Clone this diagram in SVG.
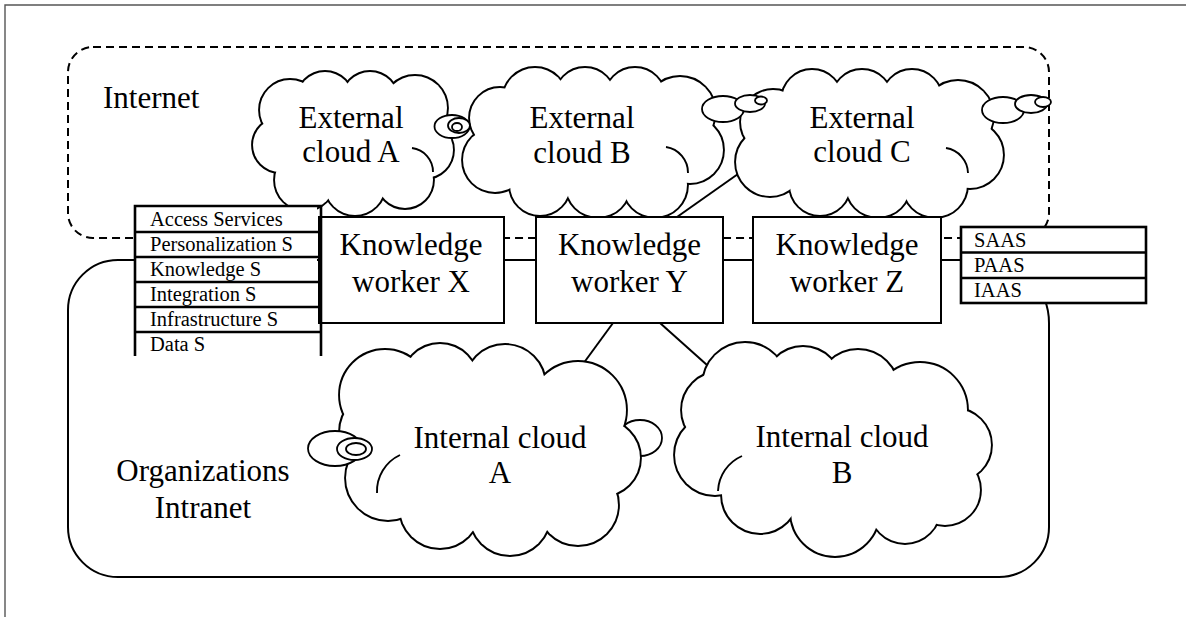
<svg xmlns="http://www.w3.org/2000/svg" width="1186" height="617" viewBox="0 0 1186 617">
<style>
.t{font-family:"Liberation Serif","Times New Roman",serif;fill:#000}
.L{font-size:31px}
.S{font-size:20.5px}
.mid{text-anchor:middle}
.frame{stroke:#555;stroke-width:1.4;fill:none}
.dash{fill:none;stroke:#000;stroke-width:2;stroke-dasharray:8 5}
.solid{fill:none;stroke:#000;stroke-width:2}
.box{fill:#fff;stroke:#000;stroke-width:2}
.tl{stroke:#000;stroke-width:2.6;fill:none}
.co{fill:#fff;stroke:#000;stroke-width:3.8}
.cf{fill:#fff;stroke:none}
.bub{fill:#fff;stroke:#000;stroke-width:1.8}
.cr{fill:none;stroke:#000;stroke-width:1.9}
.ln{stroke:#000;stroke-width:2;fill:none}
</style>
<defs>
<g id="sEA">
<ellipse cx="353" cy="143" rx="70" ry="40"/>
<circle cx="290" cy="110" r="30"/><circle cx="325" cy="100" r="28"/><circle cx="370" cy="100" r="28"/>
<circle cx="415" cy="108" r="32"/><circle cx="425" cy="150" r="28"/><circle cx="405" cy="180" r="28"/>
<circle cx="355" cy="185" r="30"/><circle cx="305" cy="180" r="30"/><circle cx="280" cy="145" r="27"/>
</g>
<g id="sEB">
<ellipse cx="593" cy="142" rx="95" ry="45"/>
<circle cx="500" cy="118" r="30"/><circle cx="535" cy="100" r="32"/><circle cx="585" cy="98" r="30"/>
<circle cx="635" cy="98" r="30"/><circle cx="680" cy="112" r="35"/><circle cx="690" cy="150" r="33"/>
<circle cx="655" cy="185" r="32"/><circle cx="598" cy="185" r="32"/><circle cx="540" cy="185" r="30"/>
<circle cx="495" cy="160" r="32"/>
</g>
<g id="sEC">
<ellipse cx="870" cy="143" rx="95" ry="45"/>
<circle cx="773" cy="122" r="32"/><circle cx="812" cy="100" r="30"/><circle cx="862" cy="100" r="30"/>
<circle cx="912" cy="100" r="30"/><circle cx="958" cy="116" r="35"/><circle cx="970" cy="155" r="33"/>
<circle cx="935" cy="185" r="32"/><circle cx="878" cy="185" r="32"/><circle cx="820" cy="185" r="30"/>
<circle cx="770" cy="162" r="34"/>
</g>
<g id="sIA">
<ellipse cx="489" cy="449" rx="100" ry="60"/>
<circle cx="385" cy="395" r="45"/><circle cx="440" cy="382" r="38"/><circle cx="505" cy="385" r="40"/>
<circle cx="578" cy="410" r="48"/><circle cx="602" cy="458" r="38"/><circle cx="578" cy="505" r="40"/>
<circle cx="510" cy="515" r="40"/><circle cx="440" cy="508" r="40"/><circle cx="388" cy="478" r="42"/>
<circle cx="380" cy="432" r="40"/>
</g>
<g id="sIB">
<ellipse cx="834" cy="450" rx="105" ry="55"/>
<circle cx="745" cy="385" r="42"/><circle cx="803" cy="385" r="38"/><circle cx="858" cy="390" r="40"/>
<circle cx="920" cy="410" r="47"/><circle cx="955" cy="445" r="36"/><circle cx="945" cy="490" r="35"/>
<circle cx="905" cy="508" r="35"/><circle cx="835" cy="512" r="44"/><circle cx="760" cy="495" r="38"/>
<circle cx="715" cy="455" r="40"/><circle cx="720" cy="410" r="38"/>
</g>
</defs>
<rect width="1186" height="617" fill="#fff"/>
<path class="frame" d="M5 617 V5 H1186"/>

<g id="internet">
<rect class="dash" x="68" y="47" width="981" height="191" rx="25" ry="25"/>
<text class="t L" x="103" y="108">Internet</text>
</g>
<g id="intranet">
<path class="solid" d="M118 260 H986 A63 63 0 0 1 1049 323 V527 A50 50 0 0 1 999 577 H118 A50 50 0 0 1 68 527 V310 A50 50 0 0 1 118 260 Z"/>
<text class="t L mid" x="203" y="481">Organizations</text>
<text class="t L mid" x="203" y="518">Intranet</text>
</g>

<g id="connectors">
<line class="ln" x1="677" y1="217" x2="738" y2="174"/>
<line class="ln" x1="613" y1="323" x2="583" y2="364"/>
<line class="ln" x1="660" y1="323" x2="707" y2="365"/>
</g>

<g id="external-cloud-a">
<use href="#sEA" class="co"/><use href="#sEA" class="cf"/>
<path class="cr" d="M412 148 A24 24 0 0 1 433 172"/>
<text class="t L mid" x="351" y="128">External</text>
<text class="t L mid" x="351" y="162">cloud A</text>
</g>
<g id="external-cloud-b">
<use href="#sEB" class="co"/><use href="#sEB" class="cf"/>
<path class="cr" d="M666 147 A26 26 0 0 1 688 173"/>
<text class="t L mid" x="582" y="128">External</text>
<text class="t L mid" x="582" y="163">cloud B</text>
</g>
<g id="external-cloud-c">
<use href="#sEC" class="co"/><use href="#sEC" class="cf"/>
<path class="cr" d="M946 148 A26 26 0 0 1 968 173"/>
<text class="t L mid" x="862" y="128">External</text>
<text class="t L mid" x="862" y="162">cloud C</text>
</g>
<g id="bubbles-b">
<ellipse class="bub" cx="723" cy="109" rx="21" ry="13"/>
<ellipse class="bub" cx="750" cy="103.5" rx="15" ry="8.5"/>
<ellipse class="bub" cx="761" cy="100.5" rx="6" ry="4"/>
</g>
<g id="bubbles-c">
<ellipse class="bub" cx="1003" cy="110" rx="21" ry="13"/>
<ellipse class="bub" cx="1031" cy="104" rx="16" ry="9"/>
<ellipse class="bub" cx="1043" cy="102" rx="8" ry="5"/>
</g>
<g id="eye-ab">
<ellipse class="bub" cx="452" cy="126.5" rx="17.5" ry="11.5"/>
<ellipse class="bub" cx="459" cy="125.5" rx="11" ry="7.5"/>
<ellipse class="bub" cx="457" cy="127" rx="5" ry="4"/>
</g>

<g id="internal-cloud-a">
<ellipse class="bub" cx="640" cy="438" rx="22" ry="18"/>
<use href="#sIA" class="co"/><use href="#sIA" class="cf"/>
<path class="cr" d="M400 455 A40 40 0 0 0 377 493"/>
<ellipse class="bub" cx="335" cy="448.5" rx="27" ry="17.5"/>
<ellipse class="bub" cx="354.5" cy="449" rx="17.5" ry="11"/>
<ellipse class="bub" cx="356" cy="449" rx="10" ry="6"/>
<text class="t L mid" x="500" y="448">Internal cloud</text>
<text class="t L mid" x="500" y="483">A</text>
</g>
<g id="internal-cloud-b">
<use href="#sIB" class="co"/><use href="#sIB" class="cf"/>
<path class="cr" d="M742 456 A40 40 0 0 0 718 491"/>
<text class="t L mid" x="842" y="447">Internal cloud</text>
<text class="t L mid" x="842" y="483">B</text>
</g>

<g id="worker-x">
<rect class="box" x="319" y="217" width="185" height="106"/>
<text class="t L mid" x="411" y="255">Knowledge</text>
<text class="t L mid" x="411" y="292">worker X</text>
</g>
<g id="worker-y">
<rect class="box" x="536" y="217" width="187" height="106"/>
<text class="t L mid" x="629.5" y="255">Knowledge</text>
<text class="t L mid" x="629.5" y="292">worker Y</text>
</g>
<g id="worker-z">
<rect class="box" x="753" y="217" width="188" height="106"/>
<text class="t L mid" x="847" y="255">Knowledge</text>
<text class="t L mid" x="847" y="292">worker Z</text>
</g>

<g id="services-table">
<rect x="135" y="206" width="182" height="150" fill="#fff"/>
<path class="tl" d="M135 356 V206 H321 V356 M135 232 H321 M135 257 H321 M135 282 H321 M135 307 H321 M135 332 H321"/>
<text class="t S" x="150" y="226">Access Services</text>
<text class="t S" x="150" y="251">Personalization S</text>
<text class="t S" x="150" y="276">Knowledge S</text>
<text class="t S" x="150" y="301">Integration S</text>
<text class="t S" x="150" y="326">Infrastructure S</text>
<text class="t S" x="150" y="351">Data S</text>
</g>
<g id="cloud-models">
<rect x="961" y="227" width="185" height="76" fill="#fff" stroke="#000" stroke-width="2.6"/>
<path class="tl" d="M961 252.5 H1146 M961 278 H1146"/>
<text class="t S" x="974" y="247">SAAS</text>
<text class="t S" x="974" y="272">PAAS</text>
<text class="t S" x="974" y="297">IAAS</text>
</g>
</svg>
